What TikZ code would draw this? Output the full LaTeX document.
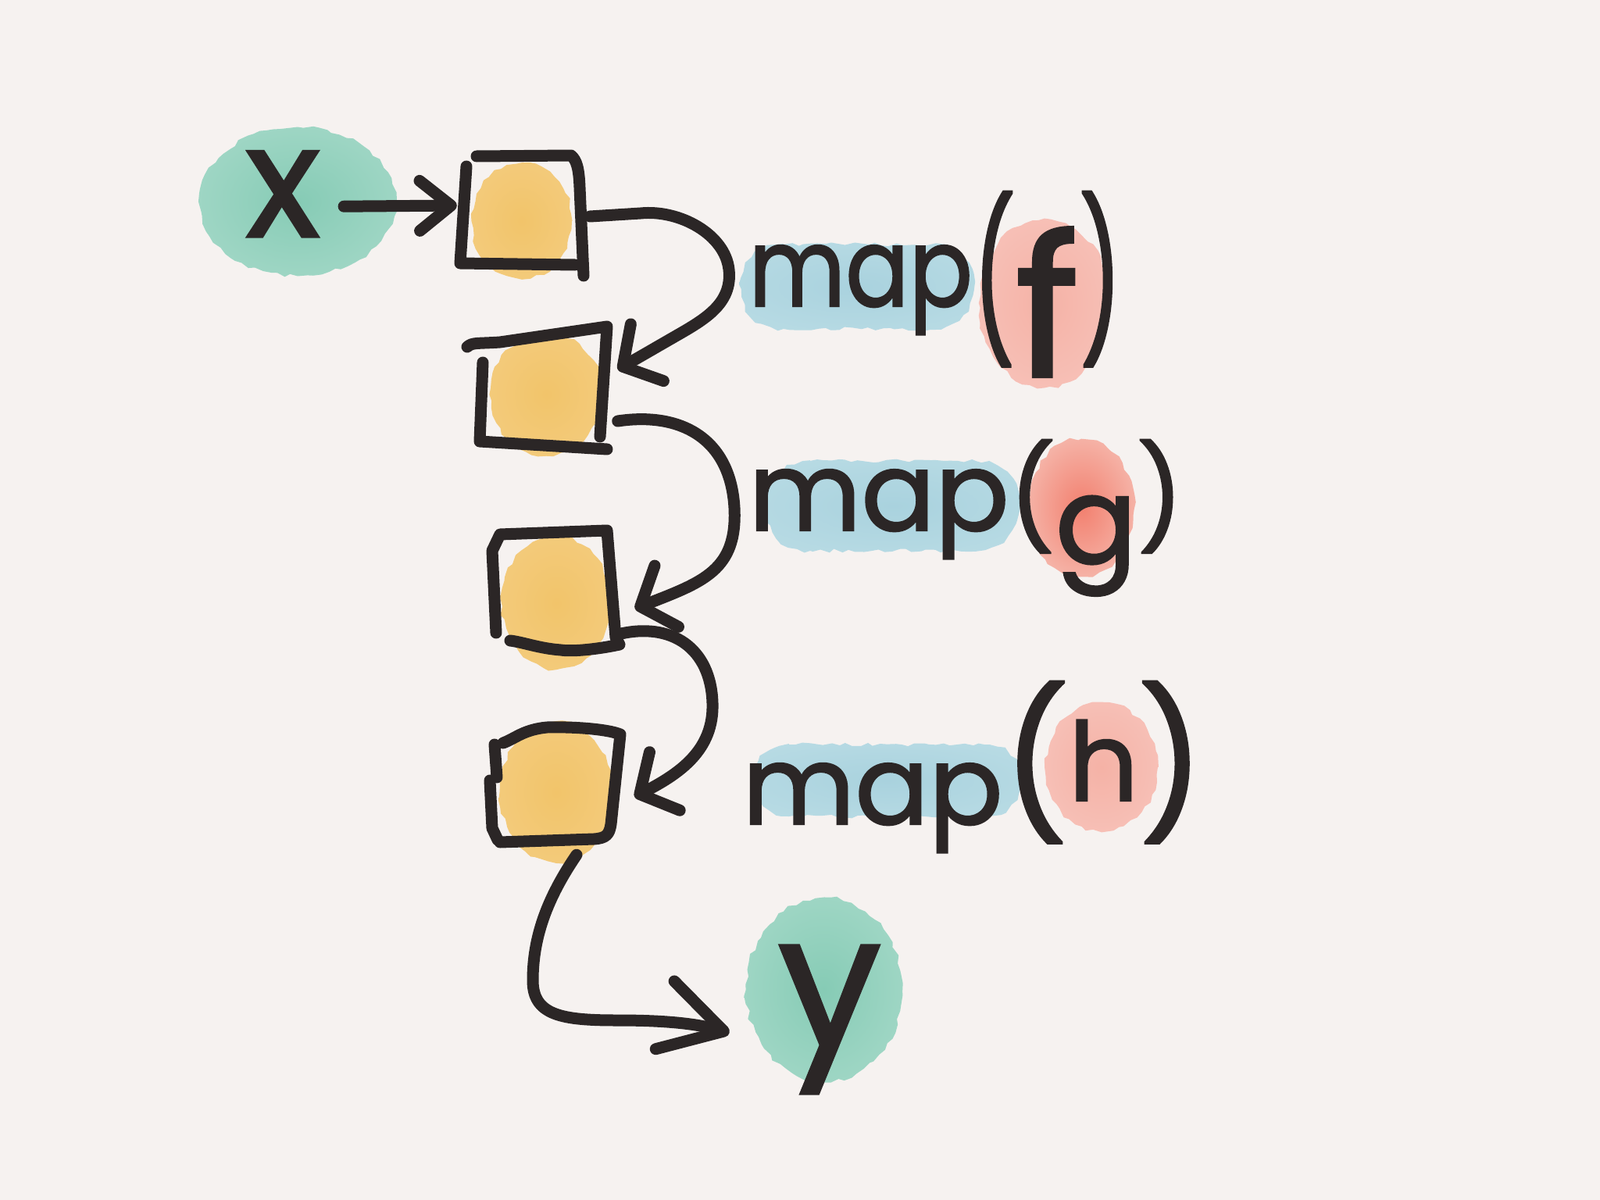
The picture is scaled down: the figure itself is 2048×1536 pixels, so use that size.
\documentclass[tikz,border=0pt]{standalone}
\usepackage{graphicx}
\usepackage{fontspec}
\setmainfont{Poppins}[FakeBold=1.6]
\usetikzlibrary{arrows.meta,decorations.pathmorphing,calc}
\definecolor{bgc}{HTML}{F6F2F0}
\definecolor{inkc}{HTML}{2B2626}
\definecolor{yin}{HTML}{F2C46A}
\definecolor{ymid}{HTML}{F3CB7C}
\definecolor{yout}{HTML}{F6DCA6}
\definecolor{gin}{HTML}{86CBB5}
\definecolor{gmid}{HTML}{A3D8C7}
\definecolor{gout}{HTML}{CBEAE0}
\definecolor{bin}{HTML}{A9D2DE}
\definecolor{bmid}{HTML}{B8DBE4}
\definecolor{bout}{HTML}{D3E8EE}
\definecolor{rin}{HTML}{F5B2A6}
\definecolor{rmid}{HTML}{F7C2B9}
\definecolor{rout}{HTML}{F9DAD4}
\definecolor{rgin}{HTML}{F2806F}
\definecolor{rgout}{HTML}{F8D0C8}
\pgfdeclareradialshading{ysh}{\pgfpoint{0bp}{0bp}}{color(0bp)=(yin); color(28bp)=(ymid); color(48bp)=(yout); color(50bp)=(yout)}
\pgfdeclareradialshading{gsh}{\pgfpoint{0bp}{0bp}}{color(0bp)=(gin); color(30bp)=(gmid); color(48bp)=(gout); color(50bp)=(gout)}
\pgfdeclareradialshading{bsh}{\pgfpoint{0bp}{0bp}}{color(0bp)=(bin); color(30bp)=(bmid); color(48bp)=(bout); color(50bp)=(bout)}
\pgfdeclareradialshading{rsh}{\pgfpoint{0bp}{0bp}}{color(0bp)=(rin); color(30bp)=(rmid); color(48bp)=(rout); color(50bp)=(rout)}
\pgfdeclareradialshading{rgsh}{\pgfpoint{0bp}{0bp}}{color(0bp)=(rgin); color(25bp)=(rin); color(48bp)=(rgout); color(50bp)=(rgout)}
\newcommand\fsz[2]{{\fontsize{#1}{#1}\selectfont #2}}
\begin{document}
\begin{tikzpicture}[x=1pt,y=-1pt,
  ink/.style={draw=inkc, line width=15pt, line cap=round, line join=round},
  blob/.style={decorate, decoration={random steps, segment length=9pt, amplitude=2.5pt}},
  boxn/.style={rectangle, draw=none, inner sep=0pt, minimum width=#1},
  txt/.style={text=inkc, inner sep=0pt, font=\fontsize{140}{140}\selectfont},
  tipN/.tip={Straight Barb[length=40pt, width=64pt, line cap=round, line join=round]},
  tipW/.tip={Straight Barb[length=36pt, width=84pt, line cap=round, line join=round]},
  tipL/.tip={Straight Barb[length=78pt, width=90pt, line cap=round, line join=round]}]
\fill[bgc] (0,0) rectangle (2048,1536);
\useasboundingbox (0,0) rectangle (2048,1536);

% watercolour blobs
\shade[shading=gsh, blob] (381,258) ellipse [x radius=126, y radius=95];
\shade[shading=gsh, blob] (1055,1267) ellipse [x radius=100, y radius=118];
\shade[shading=ysh, blob] (668,283) ellipse [x radius=64, y radius=74];
\shade[shading=ysh, blob] (699,505) ellipse [x radius=72, y radius=78];
\shade[shading=ysh, blob] (712,772) ellipse [x radius=70, y radius=85];
\shade[shading=ysh, blob] (712,1014) ellipse [x radius=72, y radius=90];
\shade[shading=bsh, blob] (1003,313) -- (1191,313) .. controls (1265,313) and (1265,421) .. (1191,421) -- (1003,421) .. controls (929,421) and (929,313) .. (1003,313) -- cycle;
\shade[shading=bsh, blob] (1037,590) -- (1249,590) .. controls (1325,590) and (1325,705) .. (1249,705) -- (1037,705) .. controls (961,705) and (961,590) .. (1037,590) -- cycle;
\shade[shading=bsh, blob] (1010,953) -- (1260,953) .. controls (1321,953) and (1321,1045) .. (1260,1045) -- (1010,1045) .. controls (949,1045) and (949,953) .. (1010,953) -- cycle;
\shade[shading=rsh, blob] (1337,388) ellipse [x radius=84, y radius=108];
\shade[shading=rgsh, blob] (1384,650) ellipse [x radius=68, y radius=88];
\shade[shading=rsh, blob] (1410,982) ellipse [x radius=72, y radius=82];

% nodes
\node[boxn=150pt, minimum height=140pt] (b1) at (668,272) {};
\node[boxn=165pt, minimum height=135pt] (b2) at (690,496) {};
\node[boxn=145pt, minimum height=140pt] (b3) at (715,750) {};
\node[boxn=150pt, minimum height=130pt] (b4) at (713,1011) {};
\node[txt, font=\fontsize{200}{200}\selectfont, anchor=base] (x) at (362,303) {x};
\node[txt, font=\fontsize{235}{235}\selectfont] (y) at (1062,1305) {y};
\node[txt, anchor=base west] (mf) at (958,392) {\scalebox{0.86}[1]{map}\raisebox{-40pt}{\scalebox{0.6}[1]{\fsz{200}{(}}}\raisebox{-90pt}{\fsz{250}{f}}\raisebox{-40pt}{\scalebox{0.6}[1]{\fsz{200}{)}}}};
\node[txt, anchor=base west] (mg) at (958,679) {map\raisebox{-5pt}{\fsz{130}{(}}\raisebox{-42pt}{\fsz{155}{g}}\raisebox{-5pt}{\fsz{130}{)}}};
\node[txt, anchor=base west] (mh) at (950,1055) {map\raisebox{10pt}{\fsz{185}{(}}\raisebox{30pt}{\fsz{140}{h}}\raisebox{10pt}{\fsz{185}{)}}};

% hand-drawn box outlines
\draw[ink] (610,200) -- (731,199) .. controls (738,205) and (741,215) .. (742,240) -- (747,353);
\draw[ink] (597,213) -- (589,337) -- (736,339);
\draw[ink] (598,444) .. controls (605,438) and (610,440) .. (640,438) -- (777,418) -- (768,559);
\draw[ink] (618,464) -- (614,565) -- (777,575);
\draw[ink] (635,810) -- (630,705) -- (640,684) -- (777,679) -- (788,816) -- (793,825) .. controls (760,832) and (730,834) .. (718,832) .. controls (690,830) and (670,822) .. (653,820);
\draw[ink] (633,953) -- (636,995);
\draw[ink] (644,951) .. controls (660,945) and (670,934) .. (700,931) .. controls (740,930) and (780,934) .. (794,940) -- (782,1055) .. controls (780,1068) and (776,1073) .. (760,1074) -- (640,1078);
\draw[ink] (627,999) -- (630,1060) -- (637,1075);

% connectors
\draw[ink, -{tipN}] ($(x.east)+(30,16)$) -- ($(b1.west)+(-8,-9)$);
\draw[ink, -{tipW}] ($(b1.east)+(12,5)$) -- (820,273) .. controls (870,268) and (928,300) .. (933,345) .. controls (938,390) and (900,410) .. (860,433) -- ($(b2.east)+(18,-23)$);
\draw[ink, -{tipW}] ($(b2.east)+(18,43)$) .. controls (870,527) and (935,560) .. (940,650) .. controls (944,730) and (900,745) .. ($(b3.east)+(25,29)$);
\draw[ink, -{tipW}] ($(b3.east)+(3,62)$) .. controls (860,795) and (910,830) .. (912,900) .. controls (914,960) and (870,990) .. ($(b4.east)+(24,9)$);
\draw[ink, -{tipL}] ($(b4.south)+(25,18)$) .. controls (700,1150) and (682,1200) .. (682,1255) .. controls (682,1300) and (720,1306) .. (790,1306) .. controls (850,1306) and (890,1310) .. ($(y.west)+(-62,17)$);
\end{tikzpicture}
\end{document}
